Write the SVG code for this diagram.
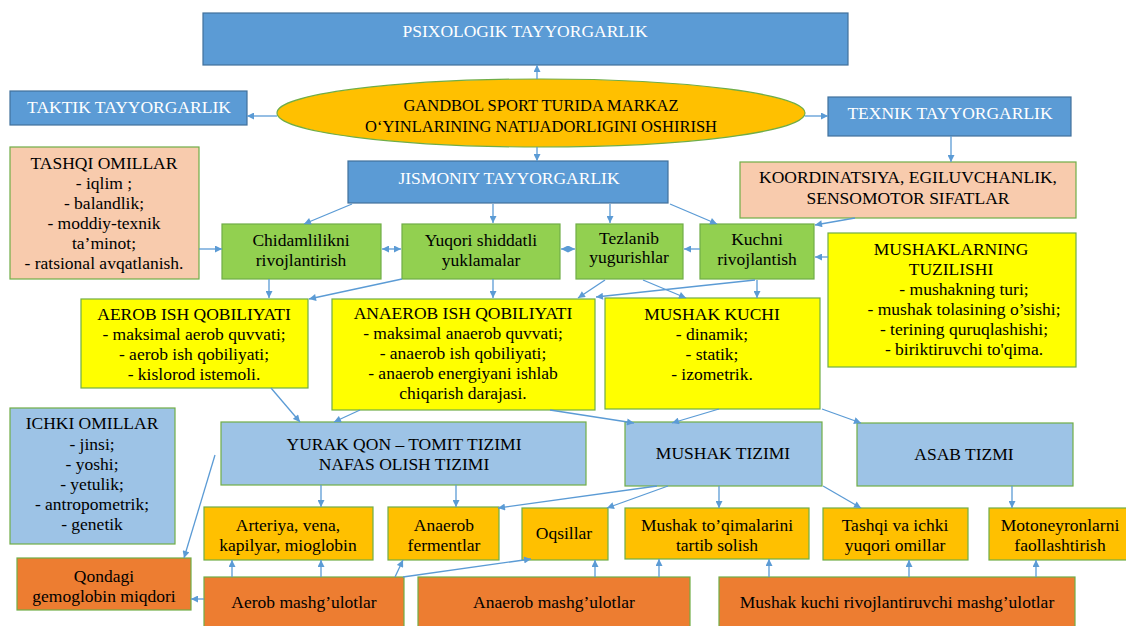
<svg xmlns="http://www.w3.org/2000/svg" width="1126" height="626" viewBox="0 0 1126 626">
<defs>
<marker id="ah" viewBox="0 0 10 10" refX="10" refY="5" markerWidth="8" markerHeight="7" markerUnits="userSpaceOnUse" orient="auto-start-reverse">
<path d="M0,0 L10,5 L0,10 z" fill="#5B9BD5"/>
</marker>
<style>
text{font-family:"Liberation Serif","Times New Roman",serif;font-size:17.5px;text-anchor:middle;fill:#000}
.db{fill:#5B9BD5;stroke:#41719C;stroke-width:1.2}
.lb{fill:#9DC3E6;stroke:#70AD47;stroke-width:1.2}
.pe{fill:#F8CBAD;stroke:#70AD47;stroke-width:1.2}
.gr{fill:#92D050;stroke:#70AD47;stroke-width:1.2}
.ye{fill:#FFFF00;stroke:#70AD47;stroke-width:1.2}
.or{fill:#FFC000;stroke:#70AD47;stroke-width:1.2}
.do{fill:#ED7D31;stroke:#70AD47;stroke-width:1.2}
.w{fill:#fff}
#edges line{stroke:#5B9BD5;stroke-width:1.3;fill:none;marker-end:url(#ah)}
#edges line.both{marker-start:url(#ah)}
</style>
</defs>
<rect width="1126" height="626" fill="#fff"/>

<g id="psixologik"><rect class="db" x="203" y="13" width="645" height="52"/><text class="w" x="525" y="37">PSIXOLOGIK TAYYORGARLIK</text></g>
<g id="markaz"><ellipse cx="541" cy="113" rx="264" ry="34" fill="#FFC000" stroke="#70AD47" stroke-width="1.2"/><text x="541" y="111" style="font-size:16.5px">GANDBOL SPORT TURIDA MARKAZ</text><text x="541" y="132" style="font-size:16.5px">O‘YINLARINING NATIJADORLIGINI OSHIRISH</text></g>
<g id="taktik"><rect class="db" x="10" y="91" width="237" height="34"/><text class="w" x="129" y="113">TAKTIK TAYYORGARLIK</text></g>
<g id="texnik"><rect class="db" x="828" y="97" width="243" height="39"/><text class="w" x="950" y="119">TEXNIK TAYYORGARLIK</text></g>
<g id="jismoniy"><rect class="db" x="348" y="161" width="320" height="42"/><text class="w" x="509" y="184">JISMONIY TAYYORGARLIK</text></g>
<g id="koordinatsiya"><rect class="pe" x="740" y="162" width="336" height="56"/><text x="908" y="183">KOORDINATSIYA, EGILUVCHANLIK,</text><text x="908" y="204">SENSOMOTOR SIFATLAR</text></g>
<g id="tashqi"><rect class="pe" x="10" y="147" width="189" height="132"/>
<text x="104" y="169">TASHQI OMILLAR</text><text x="104" y="189">- iqlim ;</text><text x="104" y="209">- balandlik;</text><text x="104" y="229">- moddiy-texnik</text><text x="104" y="249">ta’minot;</text><text x="104" y="269">- ratsional avqatlanish.</text></g>

<g id="chidamlilik"><rect class="gr" x="222" y="224" width="159" height="55"/><text x="301" y="246">Chidamlilikni</text><text x="301" y="266">rivojlantirish</text></g>
<g id="yuqori"><rect class="gr" x="402" y="224" width="158" height="55"/><text x="481" y="246">Yuqori shiddatli</text><text x="481" y="266">yuklamalar</text></g>
<g id="tezlanib"><rect class="gr" x="576" y="224" width="107" height="55"/><text x="629" y="244">Tezlanib</text><text x="629" y="263">yugurishlar</text></g>
<g id="kuchni"><rect class="gr" x="700" y="224" width="114" height="55"/><text x="757" y="245">Kuchni</text><text x="757" y="265">rivojlantish</text></g>

<g id="mushaklarning"><rect class="ye" x="828" y="233" width="248" height="134"/>
<text x="951" y="255">MUSHAKLARNING</text><text x="951" y="275">TUZILISHI</text><text x="964" y="295">- mushakning turi;</text><text x="964" y="315">- mushak tolasining o’sishi;</text><text x="964" y="335">- terining quruqlashishi;</text><text x="964" y="355">- biriktiruvchi to'qima.</text></g>

<g id="aerob"><rect class="ye" x="81" y="299" width="227" height="89"/>
<text x="194" y="320">AEROB ISH QOBILIYATI</text><text x="194" y="340">- maksimal aerob quvvati;</text><text x="194" y="360">- aerob ish qobiliyati;</text><text x="194" y="380">- kislorod istemoli.</text></g>
<g id="anaerob"><rect class="ye" x="332" y="299" width="263" height="111"/>
<text x="463" y="319">ANAEROB ISH QOBILIYATI</text><text x="463" y="339">- maksimal anaerob quvvati;</text><text x="463" y="359">- anaerob ish qobiliyati;</text><text x="463" y="379">- anaerob energiyani ishlab</text><text x="463" y="399">chiqarish darajasi.</text></g>
<g id="mushakkuchi"><rect class="ye" x="605" y="298" width="215" height="111"/>
<text x="712" y="320">MUSHAK KUCHI</text><text x="712" y="340">- dinamik;</text><text x="712" y="360">- statik;</text><text x="712" y="380">- izometrik.</text></g>

<g id="ichki"><rect class="lb" x="10" y="408" width="165" height="136"/>
<text x="92" y="429">ICHKI OMILLAR</text><text x="92" y="450">- jinsi;</text><text x="92" y="470">- yoshi;</text><text x="92" y="490">- yetulik;</text><text x="92" y="510">- antropometrik;</text><text x="92" y="530">- genetik</text></g>
<g id="yurak"><rect class="lb" x="221" y="422" width="365" height="63"/><text x="404" y="450">YURAK QON – TOMIT TIZIMI</text><text x="404" y="470">NAFAS OLISH TIZIMI</text></g>
<g id="mushaktizimi"><rect class="lb" x="625" y="422" width="197" height="64"/><text x="723" y="459">MUSHAK TIZIMI</text></g>
<g id="asab"><rect class="lb" x="857" y="423" width="216" height="63"/><text x="964" y="460">ASAB TIZMI</text></g>

<g id="arteriya"><rect class="or" x="204" y="507" width="169" height="53"/><text x="288" y="531">Arteriya, vena,</text><text x="288" y="551">kapilyar, mioglobin</text></g>
<g id="fermentlar"><rect class="or" x="388" y="507" width="111" height="53"/><text x="444" y="531">Anaerob</text><text x="444" y="551">fermentlar</text></g>
<g id="oqsillar"><rect class="or" x="522" y="508" width="86" height="52"/><text x="564" y="539">Oqsillar</text></g>
<g id="toqima"><rect class="or" x="625" y="508" width="184" height="51"/><text x="717" y="531">Mushak to’qimalarini</text><text x="717" y="551">tartib solish</text></g>
<g id="tashqiichki"><rect class="or" x="823" y="508" width="145" height="52"/><text x="895" y="531">Tashqi va ichki</text><text x="895" y="551">yuqori omillar</text></g>
<g id="motoneyron"><rect class="or" x="989" y="508" width="145" height="52"/><text x="1060" y="531">Motoneyronlarni</text><text x="1060" y="551">faollashtirish</text></g>

<g id="qondagi"><rect class="do" x="17" y="558" width="174" height="52"/><text x="104" y="582">Qondagi</text><text x="104" y="602">gemoglobin miqdori</text></g>
<g id="aerobmash"><rect class="do" x="204" y="577" width="200" height="60"/><text x="304" y="608">Aerob mashg’ulotlar</text></g>
<g id="anaerobmash"><rect class="do" x="418" y="577" width="272" height="60"/><text x="554" y="608">Anaerob mashg’ulotlar</text></g>
<g id="kuchimash"><rect class="do" x="719" y="577" width="356" height="60"/><text x="897" y="608">Mushak kuchi rivojlantiruvchi mashg’ulotlar</text></g>

<g id="edges">
<line x1="537" y1="79" x2="537" y2="65"/>
<line x1="277" y1="116" x2="247" y2="116"/>
<line x1="805" y1="116" x2="828" y2="116"/>
<line x1="537" y1="147" x2="537" y2="161"/>
<line x1="951" y1="136" x2="951" y2="162"/>
<line x1="199" y1="249" x2="222" y2="249"/>
<line class="both" x1="382" y1="249" x2="401" y2="249"/>
<line class="both" x1="561" y1="249" x2="575" y2="249"/>
<line x1="700" y1="249" x2="684" y2="249"/>
<line x1="352" y1="204" x2="304" y2="224"/>
<line x1="493" y1="204" x2="493" y2="223"/>
<line x1="610" y1="204" x2="610" y2="223"/>
<line x1="670" y1="204" x2="717" y2="224"/>
<line x1="855" y1="218" x2="815" y2="225"/>
<line x1="828" y1="257" x2="815" y2="257"/>
<line x1="269" y1="279" x2="269" y2="298"/>
<line x1="402" y1="279" x2="309" y2="299"/>
<line x1="493" y1="279" x2="493" y2="298"/>
<line x1="605" y1="280" x2="578" y2="298"/>
<line x1="643" y1="280" x2="686" y2="298"/>
<line x1="755" y1="280" x2="596" y2="297"/>
<line x1="757" y1="280" x2="757" y2="298"/>
<line x1="271" y1="388" x2="300" y2="422"/>
<line x1="360" y1="410" x2="334" y2="422"/>
<line x1="550" y1="410" x2="634" y2="423"/>
<line x1="719" y1="409" x2="672" y2="423"/>
<line x1="822" y1="409" x2="861" y2="423"/>
<line x1="215" y1="455" x2="184" y2="558"/>
<line x1="321" y1="485" x2="321" y2="507"/>
<line x1="456" y1="485" x2="456" y2="507"/>
<line x1="657" y1="486" x2="498" y2="508"/>
<line x1="668" y1="486" x2="607" y2="508"/>
<line x1="719" y1="486" x2="719" y2="508"/>
<line x1="823" y1="486" x2="861" y2="508"/>
<line x1="1012" y1="486" x2="1012" y2="508"/>
<line x1="204" y1="599" x2="191" y2="599"/>
<line x1="232" y1="577" x2="232" y2="560"/>
<line x1="321" y1="577" x2="321" y2="560"/>
<line x1="395" y1="577" x2="403" y2="560"/>
<line x1="403" y1="577" x2="531" y2="559"/>
<line x1="595" y1="577" x2="595" y2="560"/>
<line x1="659" y1="577" x2="659" y2="559"/>
<line x1="769" y1="577" x2="769" y2="559"/>
<line x1="909" y1="577" x2="909" y2="560"/>
<line x1="1036" y1="577" x2="1036" y2="560"/>
</g>
</svg>
